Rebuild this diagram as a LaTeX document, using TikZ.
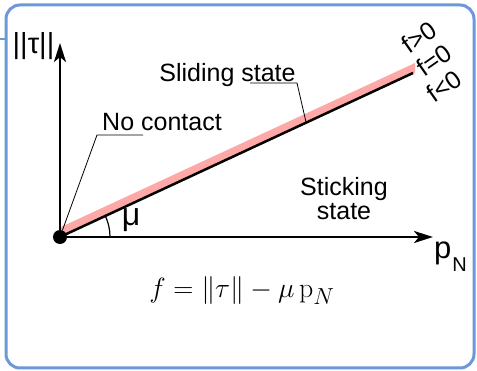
\documentclass[tikz,border=0pt]{standalone}
\usepackage{fontspec}
\newfontfamily\arialfont{Liberation Sans}
\usetikzlibrary{arrows.meta}
\definecolor{boxblue}{RGB}{108,152,218}
\definecolor{slidepink}{RGB}{255,168,168}

\begin{document}
\begin{tikzpicture}[x=1pt,y=-1pt,
  lbl/.style={font=\arialfont\fontsize{25}{24}\selectfont,inner sep=0pt},
  flbl/.style={font=\arialfont\fontsize{25}{25}\selectfont,inner sep=0pt,rotate=35},
  axis/.style={line width=2.5pt,-{Stealth[length=19pt,width=12pt,inset=5pt]}},
  leader/.style={line width=0.8pt}]
\useasboundingbox (0,0) rectangle (477,371);
\draw[boxblue,line width=3pt,rounded corners=14pt] (6,5) rectangle (474,368);
\draw[boxblue,line width=2pt] (0,39) -- (6,39);
\fill[slidepink] (61,237) -- (61,227) -- (415,63) -- (415,73) -- cycle;
\node[circle,fill,minimum size=14pt,inner sep=0pt] (O) at (60,237) {};
\coordinate (ytip) at (60,43);
\coordinate (xtip) at (433,237);
\coordinate (lineend) at (413,73);
\draw[axis] (O.center) -- (ytip);
\draw[axis] (O.center) -- (xtip);
\draw[line width=2.5pt] (O.center) -- (lineend);
\draw[line width=1.2pt] (110,237) arc[start angle=0,end angle=-25,radius=50];
% labels
\node[lbl,anchor=base] (tau) at (33.5,54) {\fontsize{29}{29}\selectfont||τ||};
\node[lbl,anchor=base west] (pN) at (434,259) {\fontsize{31}{31}\selectfont p\kern1pt\raisebox{-13pt}{\fontsize{20}{20}\selectfont N}};
\node[lbl,anchor=base] (mu) at (131,226) {\fontsize{32}{32}\selectfont μ};
\node[lbl,anchor=base] (slide) at (227.5,82) {Sliding state};
\node[lbl,anchor=base] (nocont) at (162,131) {No contact};
\node[lbl,align=center] (stick) at (344,199) {Sticking\\state};
\node[flbl] (fpos) at (419,37) {f>0};
\node[flbl] (fzero) at (434,60) {f=0};
\node[flbl] (fneg) at (444,86) {f<0};
\node[inner sep=0pt,font=\fontsize{24.88}{26}\selectfont] (yield) at (242,291) {\scalebox{1.12}{$f=\|\tau\|-\mu\,\mathrm{p}_N$}};
% leaders
\coordinate (ncknee) at (97,135);
\coordinate (slknee) at (297,83);
\coordinate (sltouch) at (306,122);
\draw[leader] (O) -- (ncknee) -- (143,135);
\draw[leader] (sltouch) -- (slknee) -- (250,83);
\end{tikzpicture}
\end{document}
